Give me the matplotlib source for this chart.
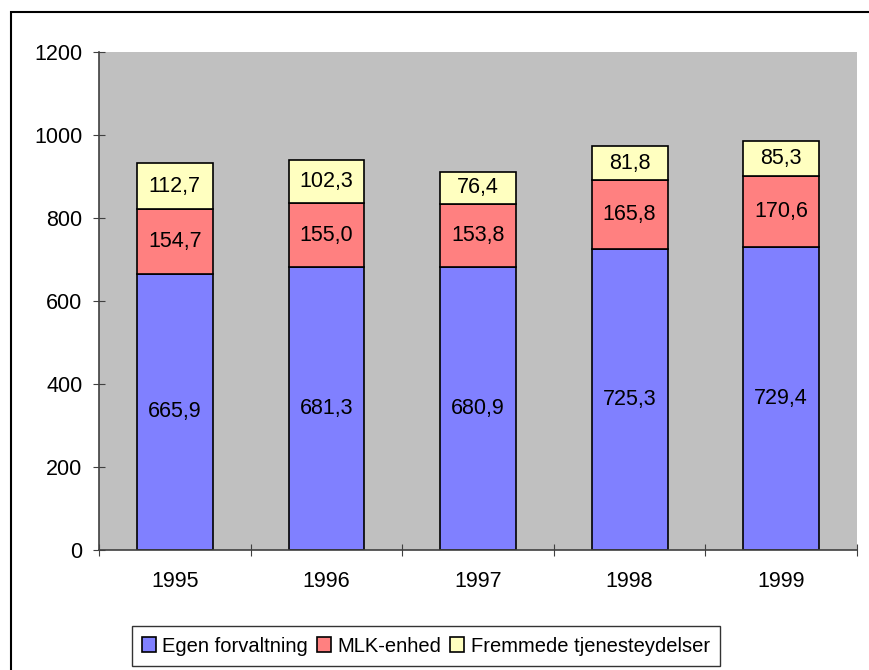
import numpy as np
import matplotlib.pyplot as plt
from matplotlib.patches import Rectangle

plt.rcParams['font.family'] = ['Liberation Sans', 'DejaVu Sans']

# data
years = ['1995', '1996', '1997', '1998', '1999']
egen = [665.9, 681.3, 680.9, 725.3, 729.4]
mlk = [154.7, 155.0, 153.8, 165.8, 170.6]
fremmede = [112.7, 102.3, 76.4, 81.8, 85.3]
series_names = ['Egen forvaltning', 'MLK-enhed', 'Fremmede tjenesteydelser']
colors = ['#8080FF', '#FF8080', '#FFFFC0']

W, H = 869, 670
FS = 15.5
fig = plt.figure(figsize=(W / 100, H / 100), dpi=100)
fig.patch.set_facecolor('white')

# outer chart frame (cut off at right and bottom)
fig.patches.append(Rectangle((11 / W, -0.05), 1.0, 1 - 12 / H + 0.05,
                             transform=fig.transFigure, fill=False,
                             edgecolor='black', linewidth=1.5))

ax = fig.add_axes([99 / W, (H - 550) / H, (857 - 99) / W, (550 - 52) / H])
ax.set_facecolor('#C0C0C0')

x = np.arange(len(years))
bottom = np.zeros(len(years))
for vals, name, col in zip([egen, mlk, fremmede], series_names, colors):
    vals = np.array(vals)
    ax.bar(x, vals, 0.5, bottom=bottom, color=col, edgecolor='black',
           linewidth=1.2, label=name)
    for xi, b, v in zip(x, bottom, vals):
        ax.text(xi, b + v / 2, f'{v:.1f}'.replace('.', ','), ha='center',
                va='center', fontsize=FS)
    bottom = bottom + vals

ax.set_xlim(-0.5, len(years) - 0.5)
ax.set_ylim(0, 1200)
ax.set_yticks(range(0, 1201, 200))

# category boundaries as major ticks, year labels on minor ticks
ax.set_xticks(np.arange(-0.5, len(years), 1.0))
ax.set_xticklabels([])
ax.set_xticks(x, minor=True)
ax.set_xticklabels(years, minor=True)
ax.tick_params(axis='x', which='major', direction='inout', length=8,
               color='#404040')
ax.tick_params(axis='x', which='minor', length=0, pad=15, labelsize=FS)
ax.tick_params(axis='y', direction='inout', length=8, color='#404040',
               labelsize=FS, pad=8)

for s in ['top', 'right']:
    ax.spines[s].set_visible(False)
for s in ['left', 'bottom']:
    ax.spines[s].set_color('#404040')
    ax.spines[s].set_linewidth(1.2)

fig.legend(loc='center', bbox_to_anchor=(426 / W, 1 - 646 / H), ncol=3,
           frameon=True, fancybox=False, edgecolor='black', fontsize=14.5,
           handlelength=0.7, handleheight=0.7, handletextpad=0.3,
           columnspacing=0.45, borderpad=0.5)

fig.savefig('out.png', dpi=100)
